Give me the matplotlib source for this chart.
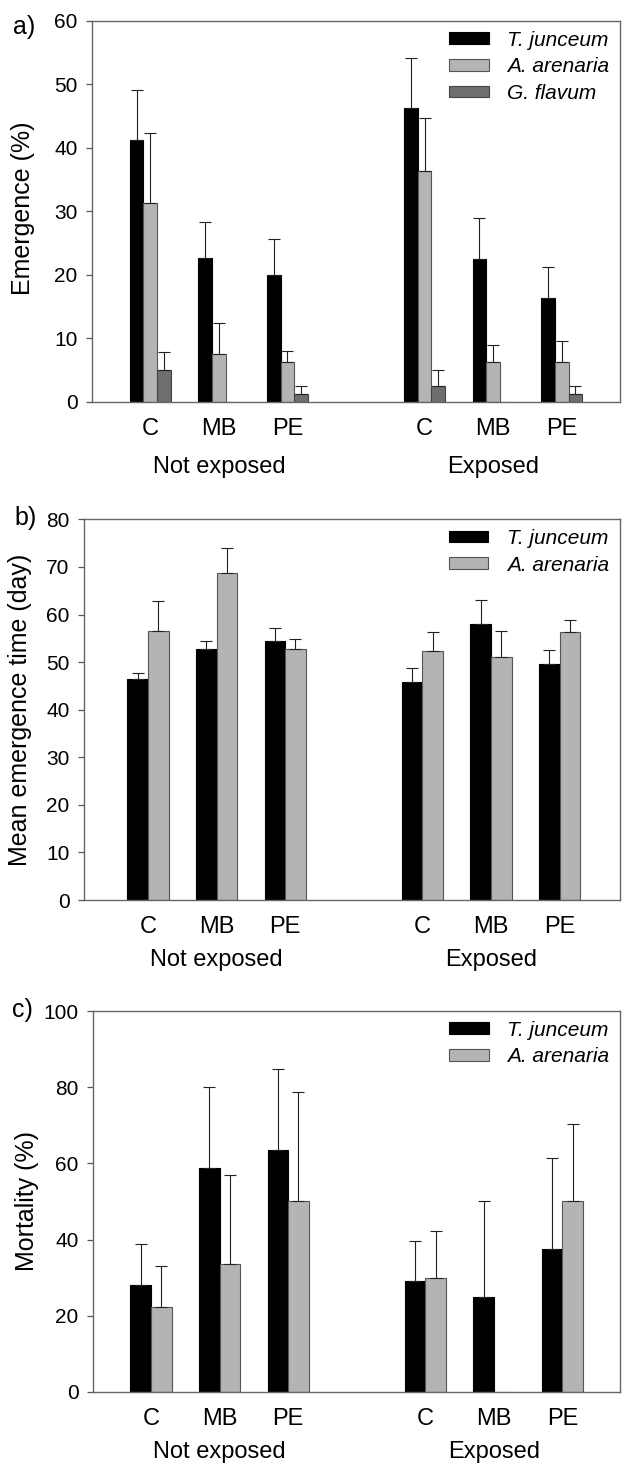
import numpy as np
import matplotlib
matplotlib.use("Agg")
import matplotlib.pyplot as plt

plt.rcParams['font.family'] = ['Liberation Sans', 'DejaVu Sans']

# treatments / exposure groups
categories = ["C", "MB", "PE", "C", "MB", "PE"]
groups = ["Not exposed", "Exposed"]
species = ["T. junceum", "A. arenaria", "G. flavum"]

# a) emergence (%) : means and upper SE
emerg_tj = [41.3, 22.6, 20.0, 46.3, 22.5, 16.3]
emerg_tj_se = [7.9, 5.8, 5.7, 7.8, 6.5, 5.0]
emerg_aa = [31.3, 7.5, 6.3, 36.3, 6.3, 6.3]
emerg_aa_se = [11.1, 4.9, 1.8, 8.4, 2.6, 3.3]
emerg_gf = [5.0, 0.0, 1.3, 2.5, 0.0, 1.3]
emerg_gf_se = [2.8, 0.0, 1.2, 2.5, 0.0, 1.2]

# b) mean emergence time (day)
time_tj = [46.4, 52.7, 54.4, 45.8, 58.1, 49.7]
time_tj_se = [1.3, 1.8, 2.7, 3.0, 4.9, 2.8]
time_aa = [56.5, 68.7, 52.7, 52.4, 51.0, 56.4]
time_aa_se = [6.3, 5.2, 2.2, 4.0, 5.5, 2.4]

# c) mortality (%)
mort_tj = [28.2, 58.9, 63.4, 29.0, 25.0, 37.5]
mort_tj_se = [10.6, 21.2, 21.3, 10.6, 25.0, 24.0]
mort_aa = [22.4, 33.5, 50.0, 30.0, 0.0, 50.0]
mort_aa_se = [10.6, 23.4, 28.8, 12.3, 0.0, 20.4]

pos = np.array([1, 2, 3, 5, 6, 7])
colors = ["#000000", "#b4b4b4", "#6e6e6e"]
edges = ["#000000", "#555555", "#444444"]


def draw_panel(ax, series, ses, width, ylim, ystep, xl, xr, grp_off):
    n = len(series)
    offs = (np.arange(n) - (n - 1) / 2) * width
    for i, (vals, se) in enumerate(zip(series, ses)):
        vals = np.asarray(vals)
        se = np.asarray(se)
        ax.bar(pos + offs[i], vals, width, color=colors[i], edgecolor=edges[i],
               linewidth=0.8, label=species[i], zorder=2)
        m = vals > 0
        ax.errorbar(pos[m] + offs[i], vals[m], yerr=[np.zeros(m.sum()), se[m]],
                    fmt='none', ecolor='#222222', elinewidth=0.8, capsize=4.5,
                    capthick=0.8, zorder=3)
    ax.set_xlim(1 - xl, 7 + xr)
    ax.set_ylim(*ylim)
    ax.set_yticks(np.arange(ylim[0], ylim[1] + 0.1, ystep))
    ax.set_xticks(pos, categories)
    ax.tick_params(axis='x', length=0, pad=11.5, labelsize=17)
    ax.tick_params(axis='y', direction='out', length=4.5, width=0.9,
                   color='#555555', pad=6, labelsize=15)
    for s in ax.spines.values():
        s.set_color('#666666')
        s.set_linewidth(1.0)
    for g, x in zip(groups, [2, 6]):
        ax.annotate(g, xy=(x, 0), xycoords=('data', 'axes fraction'),
                    xytext=(0, -grp_off), textcoords='offset points',
                    ha='center', va='top', fontsize=17)
    ax.legend(loc='upper right', bbox_to_anchor=(0.98, 0.975),
              frameon=False, borderaxespad=0, borderpad=0,
              handlelength=1.9, handleheight=0.5, handletextpad=0.9,
              labelspacing=0.37, prop={'style': 'italic', 'size': 15})


fig = plt.figure(figsize=(6.23, 14.68), dpi=100)

ax_a = fig.add_axes([0.1477, 0.7262, 0.8475, 0.2595])
draw_panel(ax_a, [emerg_tj, emerg_aa, emerg_gf], [emerg_tj_se, emerg_aa_se, emerg_gf_se],
           0.2, (0, 60), 10, 0.85, 0.85, 39)

ax_b = fig.add_axes([0.1351, 0.3869, 0.8600, 0.2593])
draw_panel(ax_b, [time_tj, time_aa], [time_tj_se, time_aa_se],
           0.3, (0, 80), 10, 0.93, 0.88, 35.5)

ax_c = fig.add_axes([0.1498, 0.0518, 0.8454, 0.2595])
draw_panel(ax_c, [mort_tj, mort_aa], [mort_tj_se, mort_aa_se],
           0.3, (0, 100), 20, 0.84, 0.84, 35.5)

H = 1468.0
W = 623.0
fig.text(13 / W, 1 - 27 / H, "a)", fontsize=18, ha='left', va='center')
fig.text(14 / W, 1 - 518 / H, "b)", fontsize=18, ha='left', va='center')
fig.text(12 / W, 1 - 1010 / H, "c)", fontsize=18, ha='left', va='center')

fig.text(23 / W, 1 - 208 / H, "Emergence (%)", fontsize=18, rotation=90,
         ha='center', va='center')
fig.text(20 / W, 1 - 710 / H, "Mean emergence time (day)", fontsize=18, rotation=90,
         ha='center', va='center')
fig.text(27 / W, 1 - 1201 / H, "Mortality (%)", fontsize=18, rotation=90,
         ha='center', va='center')

fig.savefig("out.png", dpi=100)
